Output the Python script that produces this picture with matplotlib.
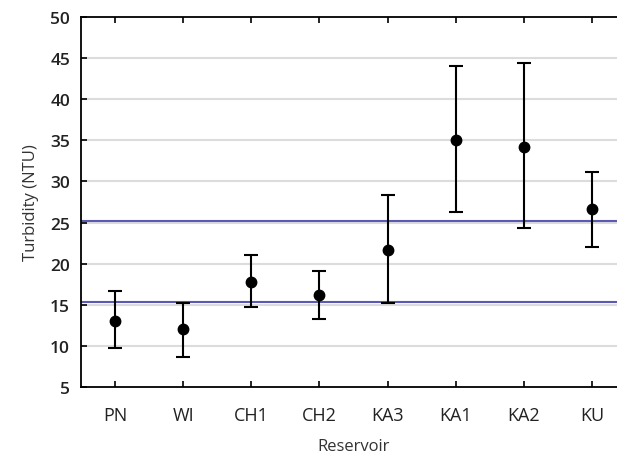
import matplotlib.pyplot as plt
import numpy as np

plt.rcParams['font.family'] = ['Open Sans', 'DejaVu Sans']

reservoirs = ["PN", "WI", "CH1", "CH2", "KA3", "KA1", "KA2", "KU"]
means = [13.0, 12.0, 17.8, 16.2, 21.7, 35.0, 34.2, 26.6]
upper = [16.7, 15.2, 21.1, 19.1, 28.4, 44.1, 44.4, 31.2]
lower = [9.7, 8.7, 14.7, 13.3, 15.2, 26.3, 24.3, 22.0]
ref_lines = [25.2, 15.3]

x = np.arange(len(reservoirs))
m = np.array(means)
err = [m - np.array(lower), np.array(upper) - m]

fig = plt.figure(figsize=(6.17, 4.64), dpi=100)
ax = fig.add_axes([81/617, 1 - 388/464, 545/617, 370/464])

for v in range(10, 50, 5):
    ax.axhline(v, color="#dcdcdc", lw=1.5, zorder=0)
for r in ref_lines:
    ax.axhline(r, color="#5a5ab4", lw=1.5, zorder=1)

ax.errorbar(x, means, yerr=err, fmt="o", color="black", ms=7.5,
            ecolor="black", elinewidth=1.5, capsize=5, capthick=1.5, zorder=3)

ax.set_xlim(-0.5, 7.5)
ax.set_ylim(5, 50)
ax.set_yticks(range(5, 51, 5))
ax.set_xticks(x)
ax.set_xticklabels(reservoirs)
ax.tick_params(direction="in", length=4, width=1.2, top=True,
               labelcolor="#222222", pad=8)
ax.tick_params(axis="x", pad=14, labelsize=13)
ax.tick_params(axis="y", labelsize=12.5)
for lab in ax.get_yticklabels():
    lab.set_fontweight("semibold")
for s in ax.spines.values():
    s.set_linewidth(1.3)
ax.spines["right"].set_visible(False)

ax.set_xlabel("Reservoir", fontsize=12, color="#333333", labelpad=10)
ax.set_ylabel("Turbidity (NTU)", fontsize=12, color="#333333", labelpad=8)

plt.savefig("out.png", dpi=100)
plt.close()
